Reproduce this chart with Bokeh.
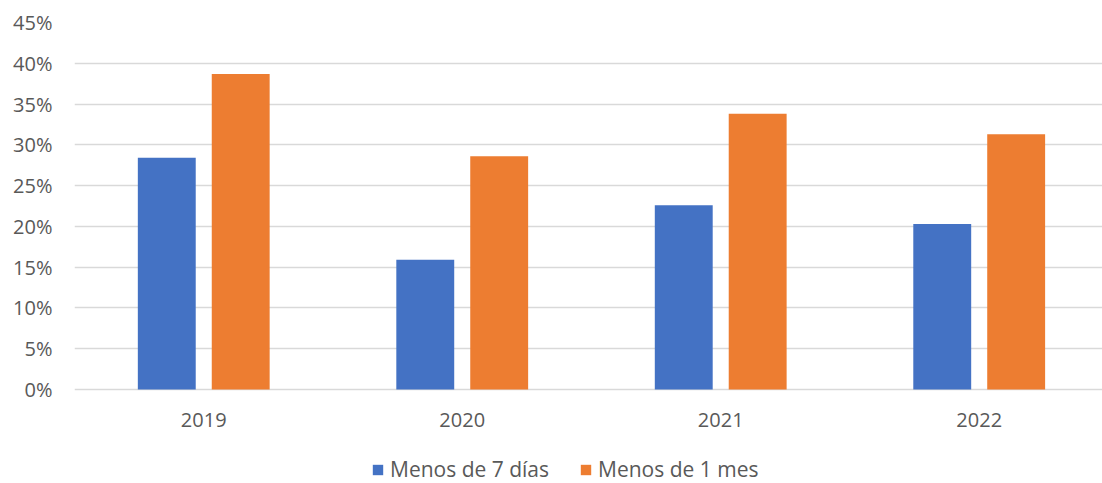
from bokeh.plotting import figure
from bokeh.models import (ColumnDataSource, FixedTicker, NumeralTickFormatter,
                          Legend, LegendItem, Range1d)
from bokeh.core.properties import value
from bokeh.embed import file_html
from bokeh.resources import INLINE

years = ["2019", "2020", "2021", "2022"]
menos_7_dias = [0.284, 0.159, 0.226, 0.203]
menos_1_mes = [0.387, 0.286, 0.338, 0.313]
series_names = ["Menos de 7 días", "Menos de 1 mes"]
y_ticks = [0, 0.05, 0.10, 0.15, 0.20, 0.25, 0.30, 0.35, 0.40, 0.45]

FONT = "Open Sans"
TXT = "#595959"
BLUE = "#4472C4"
ORANGE = "#ED7D31"

centers = [i + 0.5 for i in range(len(years))]
off = 0.143
bw = 0.224

src = ColumnDataSource(dict(
    x7=[c - off for c in centers], v7=menos_7_dias,
    x1=[c + off for c in centers], v1=menos_1_mes,
))
lab_src = ColumnDataSource(dict(x=centers, y=[-0.038] * len(years), t=years))

p = figure(width=1102, height=483, output_backend="svg", toolbar_location=None,
           x_range=Range1d(0, 3.977), y_range=Range1d(-0.1153, 0.45),
           x_axis_location=None,
           min_border_left=74, min_border_right=0, min_border_top=22,
           min_border_bottom=0)
p.outline_line_color = None
p.background_fill_color = "white"
p.border_fill_color = "white"

r7 = p.vbar(x="x7", top="v7", width=bw, source=src, fill_color=BLUE,
            line_color=None)
r1 = p.vbar(x="x1", top="v1", width=bw, source=src, fill_color=ORANGE,
            line_color=None)

p.text(x="x", y="y", text="t", source=lab_src, text_font=value(FONT),
       text_font_size="20px", text_color=TXT, text_align="center",
       text_baseline="middle")

p.xgrid.grid_line_color = None
p.ygrid.grid_line_color = "#d9d9d9"
p.ygrid.grid_line_width = 1.5

p.yaxis.ticker = FixedTicker(ticks=y_ticks)
p.yaxis.formatter = NumeralTickFormatter(format="0%")
p.yaxis.axis_line_color = None
p.yaxis.major_tick_line_color = None
p.yaxis.minor_tick_line_color = None
p.yaxis.major_label_text_font = FONT
p.yaxis.major_label_text_font_size = "20px"
p.yaxis.major_label_text_color = TXT
p.yaxis.major_label_standoff = 16

legend = Legend(items=[LegendItem(label=series_names[0], renderers=[r7]),
                       LegendItem(label=series_names[1], renderers=[r1])],
                orientation="horizontal", location=(297, 0))
legend.label_text_font = FONT
legend.label_text_font_size = "21px"
legend.label_text_color = TXT
legend.glyph_width = 13
legend.glyph_height = 13
legend.label_standoff = 6
legend.spacing = 30
legend.border_line_color = None
legend.background_fill_alpha = 0
legend.margin = 0
legend.padding = 4
p.add_layout(legend, "center")

open("out.html", "w").write(file_html(p, INLINE))
